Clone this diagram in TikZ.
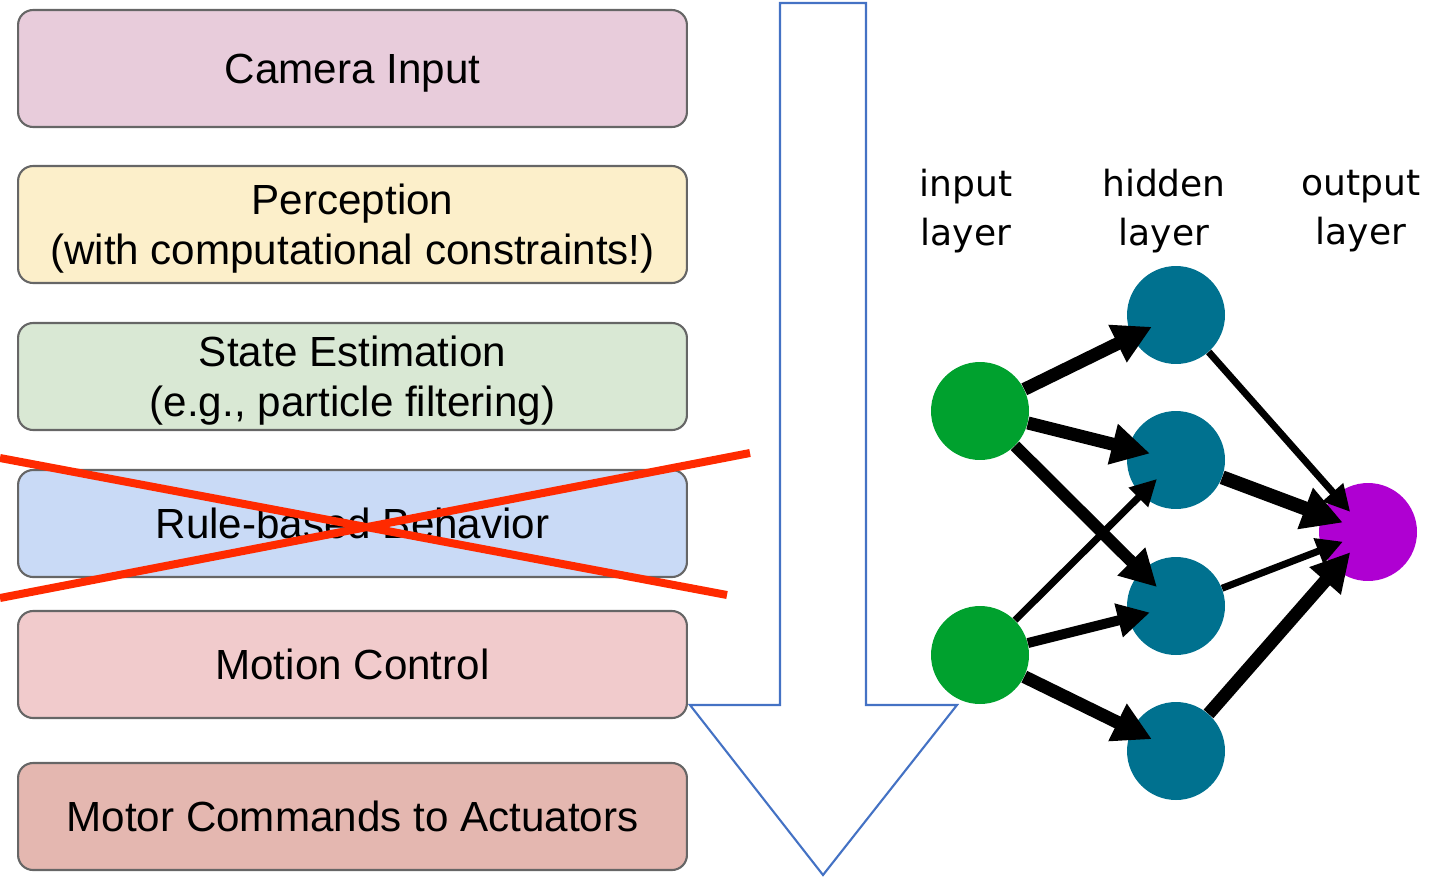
\documentclass[tikz,border=0pt]{standalone}
\usepackage{fontspec}
\setmainfont{Liberation Sans}
\newfontfamily\layerfont{DejaVu Sans}
\usetikzlibrary{arrows.meta}
\definecolor{camfill}{HTML}{E8CCDB}
\definecolor{percfill}{HTML}{FCEFCA}
\definecolor{statefill}{HTML}{D9E8D4}
\definecolor{rulefill}{HTML}{C9DAF6}
\definecolor{motionfill}{HTML}{F1CBCC}
\definecolor{motorfill}{HTML}{E4B7B0}
\definecolor{boxline}{HTML}{666666}
\definecolor{crossred}{HTML}{FF2A00}
\definecolor{flowblue}{HTML}{4472C4}
\definecolor{ingreen}{HTML}{00A12E}
\definecolor{hidteal}{HTML}{00718F}
\definecolor{outpurple}{HTML}{AF00D2}

\begin{document}
\begin{tikzpicture}[x=0.02cm,y=-0.02cm,
    stage/.style={draw=boxline,line width=1.2pt,rounded corners=0.3cm,
        minimum width=13.38cm,minimum height=2.14cm,align=center,
        font=\fontsize{24pt}{28.5pt}\selectfont,text depth=0pt},
    neuron/.style={circle,minimum size=1.96cm,inner sep=0pt},
    layername/.style={align=center,font=\layerfont\fontsize{20.5pt}{28pt}\selectfont},
    wire/.style={line width=#1,-{Triangle[length=7pt 2,width=6pt 2.2]},shorten >=-0.45cm}]
    \useasboundingbox (0,0) rectangle (1450,876);
    % the pipeline boxes
    \node[stage,fill=camfill,minimum height=2.34cm] (cam) at (352.5,68.5) {Camera Input};
    \node[stage,fill=percfill,minimum height=2.34cm] (percep) at (352.5,224.5) {Perception\\(with computational constraints!)};
    \node[stage,fill=statefill] (stateest) at (352.5,376.5) {State Estimation\\(e.g., particle filtering)};
    \node[stage,fill=rulefill] (rules) at (352.5,523.5) {Rule-based Behavior};
    \node[stage,fill=motionfill] (motion) at (352.5,664.5) {Motion Control};
    \node[stage,fill=motorfill] (motor) at (352.5,816.5) {Motor Commands to Actuators};
    % crossed out
    \draw[crossred,line width=0.16cm] (0,458) -- (727,595);
    \draw[crossred,line width=0.16cm] (0,598) -- (750,453);
    % the big arrow
    \draw[flowblue,line width=1.2pt] (780,3) -- (866,3) -- (866,705) -- (957,705)
        -- (823,875) -- (690,705) -- (780,705) -- cycle;
    % the network
    \node[layername] (inlab) at (966,211) {input\\layer};
    \node[layername] (hidlab) at (1164,211) {hidden\\layer};
    \node[layername] (outlab) at (1361,211) {output\\layer};
    \node[neuron,fill=ingreen] (in1) at (980,411) {};
    \node[neuron,fill=ingreen] (in2) at (980,655) {};
    \node[neuron,fill=hidteal] (hid1) at (1176,315) {};
    \node[neuron,fill=hidteal] (hid2) at (1176,460) {};
    \node[neuron,fill=hidteal] (hid3) at (1176,606) {};
    \node[neuron,fill=hidteal] (hid4) at (1176,751) {};
    \node[neuron,fill=outpurple] (out) at (1368,532) {};
    \draw[wire=0.26cm] (in1) -- (hid1);
    \draw[wire=0.26cm] (in1) -- (hid2);
    \draw[wire=0.24cm] (in1) -- (hid3);
    \draw[wire=0.14cm] (in2) -- (hid2);
    \draw[wire=0.2cm] (in2) -- (hid3);
    \draw[wire=0.26cm] (in2) -- (hid4);
    \draw[wire=0.14cm] (hid1) -- (out);
    \draw[wire=0.28cm] (hid2) -- (out);
    \draw[wire=0.14cm] (hid3) -- (out);
    \draw[wire=0.26cm] (hid4) -- (out);
\end{tikzpicture}
\end{document}
